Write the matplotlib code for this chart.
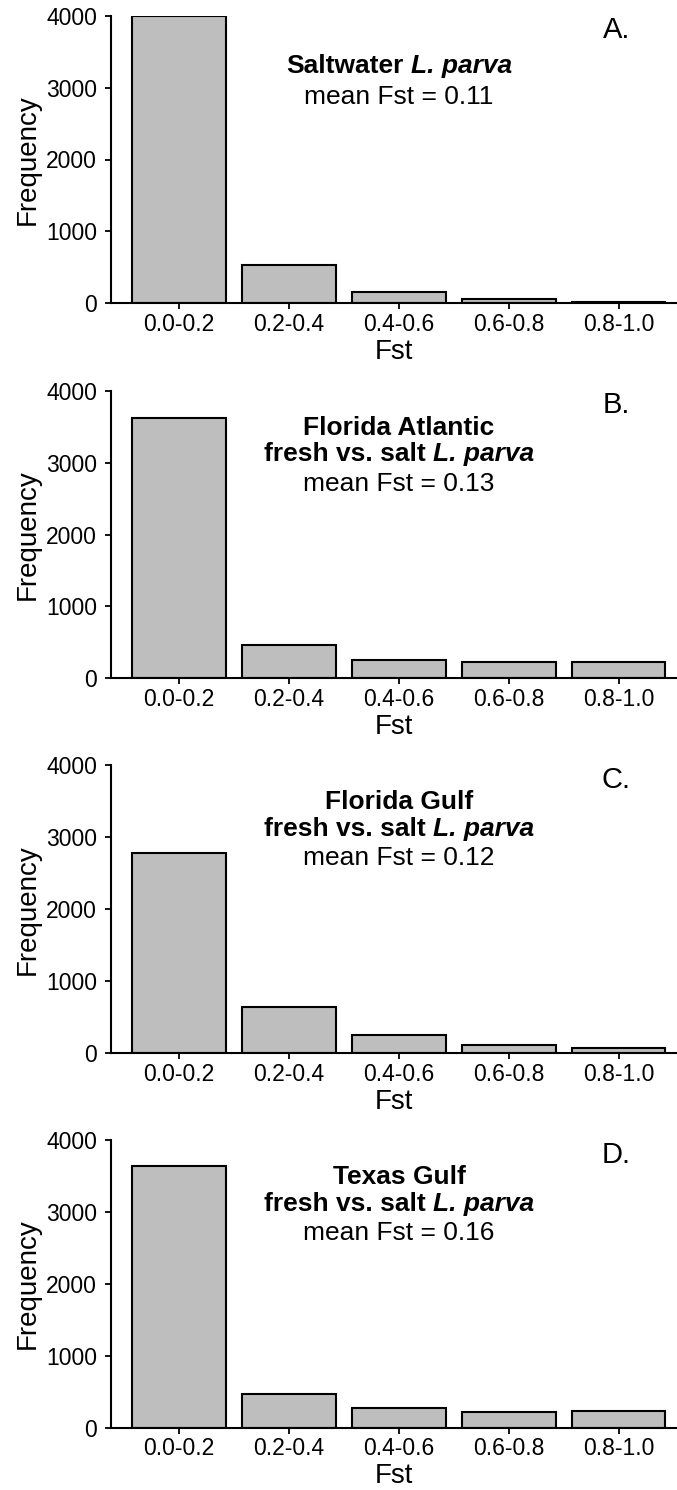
import matplotlib
matplotlib.use('Agg')

import matplotlib.pyplot as plt
import matplotlib.transforms as mtransforms

plt.rcParams['font.family'] = ['Liberation Sans', 'DejaVu Sans']

# Fst bins and counts
categories = ['0.0-0.2', '0.2-0.4', '0.4-0.6', '0.6-0.8', '0.8-1.0']
saltwater = [3990, 530, 160, 55, 15]
florida_atlantic = [3620, 470, 255, 222, 225]
florida_gulf = [2775, 645, 255, 115, 70]
texas_gulf = [3640, 470, 270, 225, 235]

panel_letters = ['A.', 'B.', 'C.', 'D.']
panel_titles = [
    [[('Saltwater', 'normal'), ('L. parva', 'italic')], [('mean Fst = 0.11', None)]],
    [[('Florida Atlantic', 'normal')], [('fresh vs. salt', 'normal'), ('L. parva', 'italic')],
     [('mean Fst = 0.13', None)]],
    [[('Florida Gulf', 'normal')], [('fresh vs. salt', 'normal'), ('L. parva', 'italic')],
     [('mean Fst = 0.12', None)]],
    [[('Texas Gulf', 'normal')], [('fresh vs. salt', 'normal'), ('L. parva', 'italic')],
     [('mean Fst = 0.16', None)]],
]
series = [saltwater, florida_atlantic, florida_gulf, texas_gulf]

W, H = 677, 1490
fig = plt.figure(figsize=(W / 100, H / 100), dpi=100)
renderer = fig.canvas.get_renderer()

# panel top / bottom in pixels
panel_px = [(15.7, 303.3), (390.7, 678.3), (765.0, 1053.3), (1140.0, 1427.7)]
left_px = 111

TXT = 19


def draw_line(ax, y, parts):
    # centre a line made of bold / bold-italic pieces on x = 3 (data)
    pieces = []
    for s, style in parts:
        weight = 'normal' if style is None else 'bold'
        fstyle = 'normal' if style is None else style
        t = ax.text(0, 0, s, fontsize=TXT, fontweight=weight, fontstyle=fstyle,
                    va='center', ha='left')
        pieces.append(t)
    widths = [t.get_window_extent(renderer).width for t in pieces]
    gap = 0.278 * TXT * 100 / 72
    total = sum(widths) + gap * (len(pieces) - 1)
    base = mtransforms.blended_transform_factory(ax.transData, ax.transAxes)
    off = -total / 2
    for t, w in zip(pieces, widths):
        t.set_position((3, y))
        t.set_transform(mtransforms.offset_copy(base, fig=fig, x=off, y=0, units='dots'))
        off += w + gap


for i, vals in enumerate(series):
    top, bottom = panel_px[i]
    ax = fig.add_axes([left_px / W, 1 - bottom / H, (W - left_px) / W, (bottom - top) / H])
    x = list(range(1, len(categories) + 1))
    ax.bar(x, vals, width=0.85, color='#bebebe', edgecolor='black', linewidth=1.5, zorder=2)
    ax.set_xlim(0.38, 5.53)
    ax.set_ylim(0, 4000)
    ax.set_yticks([0, 1000, 2000, 3000, 4000])
    ax.set_xticks(x)
    ax.set_xticklabels(categories)
    for side in ['top', 'right']:
        ax.spines[side].set_visible(False)
    for side in ['left', 'bottom']:
        ax.spines[side].set_linewidth(1.5)
    ax.tick_params(axis='both', labelsize=16.5, length=4, width=1.3, color='black')
    ax.tick_params(axis='y', pad=6)
    ax.tick_params(axis='x', pad=3)
    ax.set_xlabel('Fst', fontsize=20, labelpad=2)
    ax.set_ylabel('Frequency', fontsize=20, labelpad=4)

    ax.text(0.893, 1 - 14.5 / 287.6, panel_letters[i], transform=ax.transAxes,
            fontsize=21, ha='center', va='center')

    lines = panel_titles[i]
    if len(lines) == 2:
        ys = [1 - 50 / 287.6, 1 - 81 / 287.6]
    else:
        ys = [1 - 37 / 287.6, 1 - 63.5 / 287.6, 1 - 93 / 287.6]
    for yy, parts in zip(ys, lines):
        draw_line(ax, yy, parts)

fig.savefig('out.png', dpi=100)
